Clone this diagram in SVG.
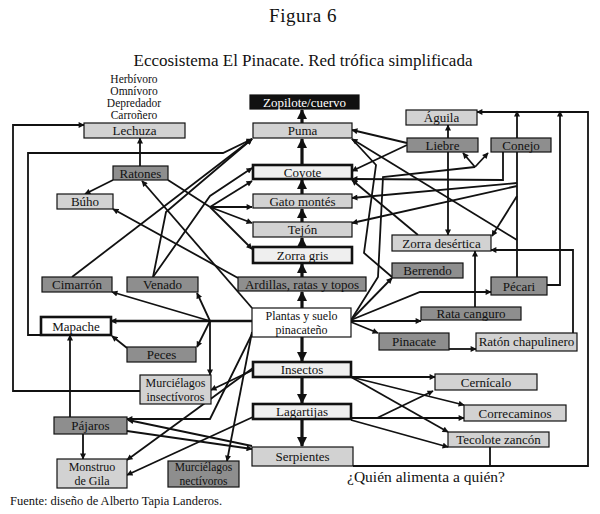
<svg xmlns="http://www.w3.org/2000/svg" width="600" height="514" viewBox="0 0 600 514">
<style>
text{font-family:"Liberation Serif","DejaVu Serif",serif;fill:#111}
.n rect{stroke:#111;stroke-width:1.2}
.t{font-size:13px;text-anchor:middle}
.t2{font-size:12px;text-anchor:middle}
.L{fill:#d2d2d2}.D{fill:#8e8e8e}.W{fill:#efefef}.B{fill:#ffffff}
.k{stroke-width:2.6!important}
#c path{fill:none;stroke:#111;stroke-width:1.8;marker-end:url(#a)}
#c path.n0{marker-end:none}
#c path.th{stroke-width:3.2;marker-end:url(#b)}
</style>
<defs>
<marker id="a" viewBox="0 0 10 10" refX="9" refY="5" markerWidth="7" markerHeight="6" markerUnits="userSpaceOnUse" orient="auto"><path d="M0,0 L10,5 L0,10 z" fill="#111"/></marker>
<marker id="b" viewBox="0 0 10 10" refX="9" refY="5" markerWidth="10" markerHeight="13" markerUnits="userSpaceOnUse" orient="auto"><path d="M0,0 L10,5 L0,10 z" fill="#111"/></marker>
</defs>
<rect width="600" height="514" fill="#fff"/>
<text x="303" y="22" font-size="19" letter-spacing="0.5" text-anchor="middle">Figura 6</text>
<text x="303" y="66" font-size="17" text-anchor="middle">Eccosistema El Pinacate. Red trófica simplificada</text>
<g font-size="11.5" text-anchor="middle">
<text x="134" y="83">Herbívoro</text>
<text x="134" y="95">Omnívoro</text>
<text x="134" y="107">Depredador</text>
<text x="134" y="119">Carroñero</text>
</g>
<g id="c">
<path class="th" d="M302,123V110"/>
<path class="th" d="M302,165V139"/>
<path class="th" d="M302,194V180"/>
<path class="th" d="M302,222V209"/>
<path class="th" d="M302,247V238"/>
<path class="th" d="M302,277V264"/>
<path class="th" d="M302,308V292"/>
<path class="th" d="M302,337V361"/>
<path class="th" d="M302,377V403"/>
<path class="th" d="M302,419V446"/>
<path d="M140,391H13V125H84"/>
<path d="M140,166V138"/>
<path d="M41,335H28V153H223L252,139"/>
<path d="M113,180L85,194"/>
<path d="M238,278L113,209"/>
<path class="n0" d="M168,180L210,207"/>
<path d="M210,207L252,249"/>
<path d="M210,207L252,181"/>
<path d="M210,207L252,207"/>
<path d="M210,207L252,223"/>
<path d="M153,277L210,196L252,168"/>
<path d="M153,277L166,212L252,139"/>
<path d="M72,277L252,139"/>
<path d="M252,308L142,181"/>
<path d="M252,321H111" style="stroke-width:2.6"/>
<path d="M210,321L112,292"/>
<path d="M210,321L197,293"/>
<path d="M210,321L197,347"/>
<path d="M210,321V375"/>
<path d="M127,348L112,336"/>
<path d="M252,334L210,419H127"/>
<path d="M252,332L227,461"/>
<path d="M253,370L211,390"/>
<path d="M253,368L127,460"/>
<path d="M253,417L127,475"/>
<path d="M127,431L252,449"/>
<path d="M252,446L128,420"/>
<path d="M70,417V335"/>
<path d="M83,434V459"/>
<path d="M448,138V125"/>
<path d="M448,152V235"/>
<path d="M407,143L352,130"/>
<path d="M407,145L352,171"/>
<path class="n0" d="M351,320L378,277L383,177L475,167"/>
<path d="M475,167L463,153"/>
<path d="M475,167L488,153"/>
<path d="M503,152V180L352,179"/>
<path d="M517,138V111"/>
<path d="M547,285H560V111"/>
<path class="n0" d="M517,152V277"/>
<path d="M517,240L352,139"/>
<path d="M418,235L352,180"/>
<path d="M517,183L352,198"/>
<path d="M517,186L352,223"/>
<path d="M517,196L492,236"/>
<path class="n0" d="M392,277L364,253L376,165L352,139"/>
<path d="M351,320L392,278"/>
<path d="M351,320L420,292H491"/>
<path d="M351,321H421"/>
<path d="M351,322L378,333"/>
<path d="M475,307V251"/>
<path d="M573,333V250H491"/>
<path d="M449,349H476"/>
<path d="M351,377H435"/>
<path d="M351,377L464,405"/>
<path d="M351,377L448,432"/>
<path d="M351,418H464"/>
<path d="M377,418L433,391"/>
<path d="M351,420L448,447"/>
<path d="M353,466H588V112H477"/>
<path class="n0" d="M490,447V466"/>
</g>
<g class="n">
<g id="zopilote"><rect x="250" y="95" width="109" height="14" fill="#111"/><text class="t" x="304.5" y="106.5" style="fill:#fff">Zopilote/cuervo</text></g>
<g id="puma"><rect class="L" x="253" y="123" width="99" height="15"/><text class="t" x="302.5" y="135">Puma</text></g>
<g id="coyote"><rect class="W k" x="253" y="165" width="99" height="14"/><text class="t" x="302.5" y="176.5">Coyote</text></g>
<g id="gato"><rect class="L" x="253" y="194" width="99" height="14"/><text class="t" x="302.5" y="205.5">Gato montés</text></g>
<g id="tejon"><rect class="L" x="253" y="222" width="99" height="15"/><text class="t" x="302.5" y="234">Tejón</text></g>
<g id="zorragris"><rect class="W k" x="253" y="247" width="99" height="16"/><text class="t" x="302.5" y="259.5">Zorra gris</text></g>
<g id="ardillas"><rect class="D" x="238" y="277" width="128" height="14"/><text class="t" x="302" y="288.5">Ardillas, ratas y topos</text></g>
<g id="plantas"><rect class="B" x="252" y="308" width="99" height="29"/><text class="t2" x="301.5" y="319.5">Plantas y suelo</text><text class="t2" x="301.5" y="333.5">pinacateño</text></g>
<g id="insectos"><rect class="W k" x="253" y="362" width="98" height="15"/><text class="t" x="302" y="374">Insectos</text></g>
<g id="lagartijas"><rect class="W k" x="253" y="404" width="98" height="15"/><text class="t" x="302" y="416">Lagartijas</text></g>
<g id="serpientes"><rect class="L" x="252" y="447" width="101" height="19"/><text class="t" x="302.5" y="461">Serpientes</text></g>
<g id="lechuza"><rect class="L" x="84" y="123" width="101" height="15"/><text class="t" x="134.5" y="135">Lechuza</text></g>
<g id="ratones"><rect class="D" x="113" y="166" width="55" height="14"/><text class="t" x="140.5" y="177.5">Ratones</text></g>
<g id="buho"><rect class="L" x="57" y="194" width="56" height="15"/><text class="t" x="85" y="206">Búho</text></g>
<g id="cimarron"><rect class="D" x="42" y="277" width="70" height="15"/><text class="t" x="77" y="289">Cimarrón</text></g>
<g id="venado"><rect class="D" x="127" y="277" width="71" height="15"/><text class="t" x="162.5" y="289">Venado</text></g>
<g id="mapache"><rect class="B k" x="41" y="317" width="70" height="18"/><text class="t" x="76" y="330.5">Mapache</text></g>
<g id="peces"><rect class="D" x="127" y="347" width="69" height="15"/><text class="t" x="161.5" y="359">Peces</text></g>
<g id="murcins"><rect class="L" x="140" y="375" width="71" height="29"/><text class="t2" x="175.5" y="386.5">Murciélagos</text><text class="t2" x="175.5" y="400.5">insectívoros</text></g>
<g id="pajaros"><rect class="D" x="54" y="417" width="73" height="17"/><text class="t" x="90.5" y="430">Pájaros</text></g>
<g id="gila"><rect class="L" x="57" y="459" width="70" height="29"/><text class="t2" x="92" y="470.5">Monstruo</text><text class="t2" x="92" y="484.5">de Gila</text></g>
<g id="murcnec"><rect class="D" x="168" y="461" width="71" height="26"/><text class="t2" x="203.5" y="471" style="font-size:11.5px">Murciélagos</text><text class="t2" x="203.5" y="484.5" style="font-size:11.5px">nectívoros</text></g>
<g id="aguila"><rect class="L" x="406" y="110" width="71" height="15"/><text class="t" x="441.5" y="122">Águila</text></g>
<g id="liebre"><rect class="D" x="407" y="138" width="71" height="14"/><text class="t" x="442.5" y="149.5">Liebre</text></g>
<g id="conejo"><rect class="D" x="491" y="138" width="60" height="14"/><text class="t" x="521" y="149.5">Conejo</text></g>
<g id="zorrades"><rect class="L" x="392" y="235" width="99" height="16"/><text class="t" x="441.5" y="247.5">Zorra desértica</text></g>
<g id="berrendo"><rect class="D" x="392" y="263" width="71" height="15"/><text class="t" x="427.5" y="275">Berrendo</text></g>
<g id="pecari"><rect class="D" x="491" y="277" width="56" height="18"/><text class="t" x="519" y="290.5">Pécari</text></g>
<g id="ratacanguro"><rect class="D" x="421" y="307" width="100" height="13"/><text class="t" x="471" y="318">Rata canguro</text></g>
<g id="pinacate"><rect class="D" x="379" y="333" width="70" height="17"/><text class="t" x="414" y="346">Pinacate</text></g>
<g id="raton"><rect class="L" x="476" y="333" width="101" height="18"/><text class="t" x="526.5" y="346">Ratón chapulinero</text></g>
<g id="cernicalo"><rect class="L" x="435" y="374" width="102" height="16"/><text class="t" x="486" y="386.5">Cernícalo</text></g>
<g id="correcaminos"><rect class="L" x="464" y="405" width="102" height="16"/><text class="t" x="515" y="417.5">Correcaminos</text></g>
<g id="tecolote"><rect class="L" x="448" y="432" width="101" height="15"/><text class="t" x="498.5" y="444">Tecolote zancón</text></g>
</g>
<text x="426" y="482" font-size="15.5" text-anchor="middle">¿Quién alimenta a quién?</text>
<text x="10" y="505" font-size="12.5">Fuente: diseño de Alberto Tapia Landeros.</text>
</svg>
